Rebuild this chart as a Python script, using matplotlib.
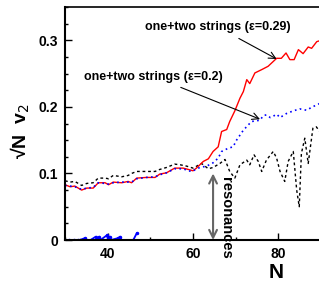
import matplotlib
matplotlib.use("Agg")
import matplotlib.pyplot as plt
from matplotlib.ticker import MultipleLocator

plt.rcParams['font.family'] = ['Liberation Sans', 'DejaVu Sans']

# ---- data ----
N_red = [30, 31.2, 32.3, 33.9, 35.1, 36.6, 37.8, 39.4, 40.2, 41.3, 43.3, 44.8, 45.6,
         46.8, 49.1, 51.1, 52.2, 53.8, 55.7, 57.7, 58.9, 60, 60.8, 62.4, 63.6, 64.7,
         65.9, 66.7, 67.9, 68.6, 69.8, 71, 71.8, 72.6, 73.3, 74.5, 76.1, 77.6, 79.6,
         80.7, 81.8, 82.7, 83.7, 84.7, 85.8, 87, 87.8, 89, 90]
v_red = [0.083, 0.080, 0.081, 0.075, 0.078, 0.078, 0.086, 0.086, 0.083, 0.087, 0.086,
         0.088, 0.086, 0.093, 0.094, 0.094, 0.099, 0.101, 0.108, 0.108, 0.106, 0.104,
         0.108, 0.118, 0.122, 0.133, 0.140, 0.163, 0.166, 0.178, 0.194, 0.213, 0.223,
         0.241, 0.235, 0.251, 0.256, 0.261, 0.273, 0.273, 0.281, 0.271, 0.271, 0.286,
         0.280, 0.290, 0.288, 0.298, 0.300]

N_blue = [30, 31.2, 32.3, 33.9, 35.1, 36.6, 37.8, 39.4, 40.2, 41.3, 43.3, 44.8, 45.6,
          46.8, 49.1, 51.1, 52.2, 53.8, 55.7, 57.7, 58.9, 59.7, 61.6, 63.2, 64.7, 65.9,
          66.7, 68.3, 69.4, 70.2, 71.8, 73.7, 75.7, 76.5, 77.2, 78.1, 78.8, 79.6, 80.4,
          81.9, 83.5, 85, 86.6, 88, 89, 90]
v_blue = [0.082, 0.081, 0.080, 0.076, 0.078, 0.079, 0.086, 0.085, 0.084, 0.086, 0.087,
          0.087, 0.087, 0.092, 0.094, 0.095, 0.098, 0.101, 0.107, 0.107, 0.104, 0.103,
          0.109, 0.111, 0.116, 0.123, 0.133, 0.138, 0.140, 0.150, 0.165, 0.178, 0.180,
          0.187, 0.188, 0.184, 0.186, 0.189, 0.184, 0.190, 0.194, 0.197, 0.195, 0.200,
          0.203, 0.206]

N_black = [30, 31.2, 32.3, 33.9, 35.1, 36.6, 37.8, 39.4, 40.2, 41.3, 43.3, 44.8, 45.6,
           46.8, 49.1, 51.1, 52.2, 53.8, 55.7, 57, 58.5, 60, 62, 63.6, 64.7, 66.3, 67.5,
           68.6, 69.8, 71, 72.6, 73.3, 74.3, 75.3, 76.1, 77.2, 78.8, 79.6, 80.4, 81.5,
           82.3, 83.5, 84.3, 84.9, 85.4, 86.2, 87, 88.1, 88.9, 89.7]
v_black = [0.089, 0.087, 0.088, 0.082, 0.085, 0.086, 0.093, 0.093, 0.092, 0.097, 0.095,
           0.097, 0.100, 0.103, 0.103, 0.103, 0.106, 0.109, 0.114, 0.113, 0.111, 0.108,
           0.115, 0.107, 0.109, 0.115, 0.121, 0.103, 0.093, 0.113, 0.120, 0.113, 0.128,
           0.118, 0.103, 0.120, 0.133, 0.123, 0.103, 0.088, 0.118, 0.133, 0.075, 0.050,
           0.130, 0.153, 0.115, 0.168, 0.170, 0.163]

N_low = [30, 31, 32, 33, 33.5, 34.7, 35, 36, 37.2, 37.5, 38, 38.3, 39.8, 40.1, 40.5,
         40.8, 42.5, 42.9, 43.2, 46, 46.8]
v_low = [0, 0, 0, 0, 0, 0.003, 0, 0, 0.005, 0, 0.005, 0, 0.007, 0, 0.005,
         0, 0.003, 0.005, 0, 0, 0.010]

label_eps029 = "one+two strings (ε=0.29)"
label_eps02 = "one+two strings (ε=0.2)"

# ---- figure ----
fig = plt.figure(figsize=(3.19, 2.81), dpi=100)
ax = fig.add_axes([0.2038, 0.1459, 0.8025, 0.829])

ax.plot(N_black, v_black, color='black', lw=1.0, ls=(0, (2, 2)))
ax.plot(N_red, v_red, color='red', lw=1.0)
ax.plot(N_blue, v_blue, color='blue', lw=1.2, ls=(0, (1, 2)))
ax.plot(N_low, v_low, color='blue', lw=1.3, marker='.', ms=3)

ax.set_xlim(30, 90)
ax.set_ylim(0, 0.35)
ax.xaxis.set_minor_locator(MultipleLocator(10))
ax.yaxis.set_minor_locator(MultipleLocator(0.025))
ax.set_xticks([40, 60, 80])
ax.set_xticklabels(['40', '60', '80'])
ax.set_yticks([0, 0.1, 0.2, 0.3])
ax.set_yticklabels(['0', '0.1', '0.2', '0.3'])

ax.tick_params(which='both', direction='in', top=False, right=False, width=1.0)
ax.tick_params(which='major', length=5, labelsize=10, pad=5)
ax.tick_params(which='minor', length=2.5)
for lab in ax.get_xticklabels() + ax.get_yticklabels():
    lab.set_fontweight('bold')

for s in ['left', 'bottom']:
    ax.spines[s].set_linewidth(1.5)
ax.spines['top'].set_linewidth(1.2)
ax.spines['right'].set_linewidth(1.2)

fig.text(0.063, 0.535, "√N  v$_2$", rotation=90, fontsize=14, fontweight='bold',
         ha='center', va='center')
fig.text(0.865, 0.03, "N", fontsize=15, fontweight='bold', ha='center', va='center')

ax.annotate(label_eps029, xy=(79.6, 0.272), xytext=(65.8, 0.320),
            ha='center', va='center', fontsize=9, fontweight='bold',
            arrowprops=dict(arrowstyle='->', color='black', lw=0.8,
                            shrinkA=4, shrinkB=0, mutation_scale=12))
ax.annotate(label_eps02, xy=(75.7, 0.1815), xytext=(50.8, 0.2456),
            ha='center', va='center', fontsize=9, fontweight='bold',
            arrowprops=dict(arrowstyle='->', color='black', lw=0.8,
                            shrinkA=4, shrinkB=0, mutation_scale=12))

ax.annotate('', xy=(64.7, 0.0), xytext=(64.7, 0.1),
            arrowprops=dict(arrowstyle='<->', color='0.4', lw=1.5,
                            shrinkA=0, shrinkB=0, mutation_scale=14))
ax.text(67.7, 0.033, "resonances", rotation=-90, fontsize=10.5, fontweight='bold',
        ha='center', va='center', clip_on=False)

fig.savefig("out.png", dpi=100, facecolor='white')
